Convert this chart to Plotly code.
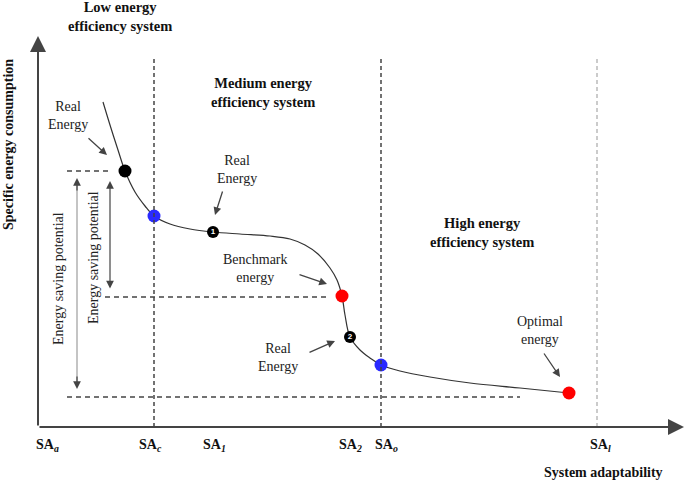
import plotly.graph_objects as go

# ---- data (diagram units: x = adaptability, y = specific energy consumption) ----
curve_x = [65, 72, 80, 87, 97, 107, 116, 132, 152, 175, 202, 232, 252, 267, 280, 292, 299, 304, 307, 312, 322, 332, 343, 362, 392, 432, 482, 531]
curve_y = [325, 302, 277, 256, 235, 221, 211, 203, 198, 195, 193, 191, 188, 182, 173, 159, 147, 131, 112, 90, 77, 69, 62, 56, 50, 44, 39, 34]

real_x, real_y = [87], [256]
numbered_x, numbered_y, numbered_lbl = [175, 312], [195, 90], ["1", "2"]
boundary_x, boundary_y = [116, 343], [211, 62]
red_x, red_y = [304, 531], [131, 34]

region_x = [116, 343]
limit_x = [559]
region_top = 368

tick_pos = [9, 112, 176, 312, 348, 562]
tick_sub = ["a", "c", "1", "2", "o", "l"]

ref_levels = [(256, 29, 70), (130, 67, 292), (30, 29, 482)]

FONT = "Liberation Serif"
DARK = "#444444"

fig = go.Figure()

# vertical region boundaries
for xv in region_x:
    fig.add_shape(type="line", x0=xv, x1=xv, y0=0, y1=region_top,
                  line=dict(color=DARK, width=1.5, dash="4px,3px"))
for xv in limit_x:
    fig.add_shape(type="line", x0=xv, x1=xv, y0=0, y1=region_top,
                  line=dict(color="#bbbbbb", width=1.5, dash="4px,3px"))
# horizontal reference levels
for yv, x0, x1 in ref_levels:
    fig.add_shape(type="line", x0=x0, x1=x1, y0=yv, y1=yv,
                  line=dict(color=DARK, width=1.5, dash="5px,4px"))

# long saving-potential arrow (light shaft, dark heads)
fig.add_shape(type="line", x0=39, x1=39, y0=42, y1=245, line=dict(color="#b0b0b0", width=1.5))
for yh, yt in [(249, 235), (38, 52)]:
    fig.add_annotation(x=39, y=yh, ax=39, ay=yt, axref="x", ayref="y", xref="x", yref="y",
                       text="", showarrow=True, arrowhead=2, arrowsize=1.3, arrowwidth=1.2,
                       arrowcolor=DARK)
# short saving-potential arrow
fig.add_annotation(x=72, y=246, ax=72, ay=137, axref="x", ayref="y", xref="x", yref="y",
                   text="", showarrow=True, arrowhead=2, arrowside="end+start",
                   arrowsize=1.3, arrowwidth=1.2, arrowcolor=DARK)

# curve
fig.add_trace(go.Scatter(x=curve_x, y=curve_y, mode="lines", line=dict(color="#333333", width=1.2, shape="spline", smoothing=1.0),
                         hoverinfo="skip"))
fig.add_trace(go.Scatter(x=real_x, y=real_y, mode="markers", marker=dict(color="black", size=13)))
fig.add_trace(go.Scatter(x=boundary_x, y=boundary_y, mode="markers", marker=dict(color="#2a2aff", size=13)))
fig.add_trace(go.Scatter(x=red_x, y=red_y, mode="markers", marker=dict(color="#ff0000", size=13)))
fig.add_trace(go.Scatter(x=numbered_x, y=numbered_y, mode="markers+text",
                         text=["<b>" + s + "</b>" for s in numbered_lbl],
                         textposition="middle center",
                         textfont=dict(family="Arial", size=8, color="white"),
                         marker=dict(color="black", size=12)))

# axes with arrows
fig.add_annotation(x=646, y=0, ax=0, ay=0, axref="x", ayref="y", xref="x", yref="y", text="",
                   showarrow=True, arrowhead=2, arrowsize=1.6, arrowwidth=2, arrowcolor=DARK)
fig.add_annotation(x=0, y=391, ax=0, ay=0, axref="x", ayref="y", xref="x", yref="y", text="",
                   showarrow=True, arrowhead=2, arrowsize=1.6, arrowwidth=2, arrowcolor=DARK)

# pointer arrows
pointers = [((69, 272), (49, 290)), ((177, 212), (185, 237)), ((289, 143), (260, 153)),
            ((297, 86), (270, 74)), ((522, 50), (505, 75))]
for (hx, hy), (tx, ty) in pointers:
    fig.add_annotation(x=hx, y=hy, ax=tx, ay=ty, axref="x", ayref="y", xref="x", yref="y", text="",
                       showarrow=True, arrowhead=2, arrowsize=1.2, arrowwidth=1.3, arrowcolor=DARK)

# texts
labels = [("Real<br>Energy", 30, 312), ("Real<br>Energy", 199, 258), ("Benchmark<br>energy", 217, 159),
          ("Real<br>Energy", 240, 70), ("Optimal<br>energy", 502, 97)]
for t, x, y in labels:
    fig.add_annotation(x=x, y=y, text=t, showarrow=False, font=dict(family=FONT, size=14, color="#222"))

bold_labels = [("Low energy<br>efficiency system", 82, 411), ("Medium energy<br>efficiency system", 225, 335),
               ("High energy<br>efficiency system", 444, 195)]
for t, x, y in bold_labels:
    fig.add_annotation(x=x, y=y, text="<b>" + t + "</b>", showarrow=False,
                       font=dict(family=FONT, size=14.5, color="#111"))

for t, x, y in [("Energy saving potential", 20, 148), ("Energy saving potential", 55, 169)]:
    fig.add_annotation(x=x, y=y, text=t, textangle=-90, showarrow=False,
                       font=dict(family=FONT, size=14, color="#222"))

fig.add_annotation(x=-30, y=282, text="<b>Specific energy consumption</b>", textangle=-90, showarrow=False,
                   font=dict(family=FONT, size=14, color="#111"))
fig.add_annotation(x=565, y=-45, text="<b>System adaptability</b>", showarrow=False,
                   font=dict(family=FONT, size=14, color="#111"))

for xp, s in zip(tick_pos, tick_sub):
    fig.add_annotation(x=xp, y=-18, text="<b>SA<sub><i>" + s + "</i></sub></b>", showarrow=False,
                       font=dict(family=FONT, size=14, color="#111"))

fig.update_layout(
    width=685, height=482, margin=dict(l=0, r=0, t=0, b=0),
    paper_bgcolor="white", plot_bgcolor="white", showlegend=False,
    xaxis=dict(range=[-38, 647], visible=False, fixedrange=True),
    yaxis=dict(range=[-55, 427], visible=False, fixedrange=True),
)
# remove the default 8px page margin so the figure fills the window
fig.write_html("out.html", config={"displayModeBar": False},
               post_script="document.body.style.margin='0';document.body.style.overflow='hidden';")
